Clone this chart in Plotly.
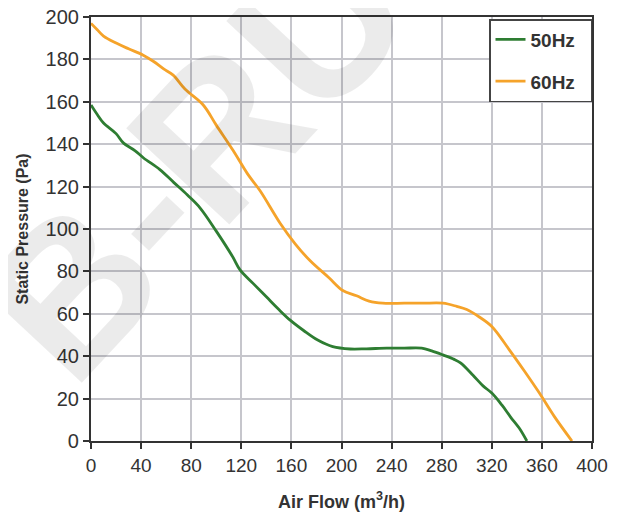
import plotly.graph_objects as go

flow_50 = [0, 5, 10, 20, 26, 35, 42, 55, 66, 77, 87, 100, 113, 119, 130, 140, 150, 159, 170, 181, 193, 207, 220, 236, 250, 264, 272, 281, 290, 295, 305, 313, 320, 328, 335, 342, 348]
press_50 = [158.5, 154, 150, 145, 140.5, 137, 133.5, 128, 122, 116, 110, 99, 87, 80.7, 74, 68, 62, 57, 52, 47.6, 44.5, 43.4, 43.5, 43.8, 43.8, 43.8, 42.5, 40.6, 38.5, 36.8, 31, 26, 22.6, 17, 11.3, 6, 0]

flow_60 = [0, 5, 10, 20.5, 30, 41.7, 50, 58, 65.6, 75, 89.6, 100, 113.5, 125, 135, 151, 163, 175, 190, 201, 212, 222, 233, 250, 265, 281, 292, 300, 310, 320, 334, 346, 358, 370, 384]
press_60 = [197, 194, 191, 187.6, 185, 182, 179, 175.5, 172.6, 166, 158.5, 149, 137, 126, 118, 102.7, 93, 85, 77, 71, 68.5, 66, 65, 65, 65, 65, 63.5, 62, 58.5, 54, 43, 33, 22.6, 11.5, 0]

x_ticks = [0, 40, 80, 120, 160, 200, 240, 280, 320, 360, 400]
y_ticks = [0, 20, 40, 60, 80, 100, 120, 140, 160, 180, 200]

fig = go.Figure()
fig.add_trace(go.Scatter(x=flow_50, y=press_50, mode="lines", name="<b>50Hz</b>&nbsp;&nbsp;", legendgroup="a",
                         line=dict(color="#2e7d32", width=2.8), line_shape="spline"))
fig.add_trace(go.Scatter(x=flow_60, y=press_60, mode="lines", name="<b>60Hz</b>&nbsp;&nbsp;", legendgroup="b",
                         line=dict(color="#f5a32a", width=2.8), line_shape="spline"))

fig.add_annotation(text="<b>B-RU</b>", x=0.208, y=0.67, xref="paper", yref="paper",
                   xanchor="center", yanchor="middle",
                   showarrow=False, textangle=-47,
                   font=dict(family="Liberation Sans", size=205, color="rgba(0,0,0,0.08)"))

fig.update_layout(
    width=610, height=507,
    margin=dict(l=83, r=26, t=9, b=74, autoexpand=False),
    paper_bgcolor="white", plot_bgcolor="white",
    font=dict(family="Liberation Sans, Arial, sans-serif", color="#333"),
    showlegend=True,
    legend=dict(x=1, y=0.995, xanchor="right", yanchor="top",
                bgcolor="white", bordercolor="#444", borderwidth=1.5,
                font=dict(size=19, color="#333", family="Liberation Sans"),
                tracegroupgap=14, itemwidth=30, traceorder="grouped"),
    xaxis=dict(range=[0, 400], tickvals=x_ticks, ticktext=[str(v) for v in x_ticks],
               showgrid=True, gridcolor="#c6c6cc", gridwidth=1.5, automargin=False,
               showline=True, linecolor="#333", linewidth=2.2, mirror=True,
               ticks="outside", ticklen=6, tickwidth=1.5, tickcolor="#333",
               tickfont=dict(size=19), zeroline=False, ticklabeloverflow="allow",
               title=dict(text="<b>Air Flow (m<sup>3</sup>/h)</b>", font=dict(size=18), standoff=20)),
    yaxis=dict(range=[0, 200], tickvals=y_ticks, ticktext=[str(v) for v in y_ticks],
               showgrid=True, gridcolor="#c6c6cc", gridwidth=1.5, automargin=False,
               showline=True, linecolor="#333", linewidth=2.2, mirror=True,
               ticks="outside", ticklen=6, tickwidth=1.5, tickcolor="#333",
               tickfont=dict(size=20), zeroline=False, ticklabeloverflow="allow",
               title=dict(text="<b>Static Pressure (Pa)</b>", font=dict(size=16), standoff=13)),
)

fig.write_html("out.html")
